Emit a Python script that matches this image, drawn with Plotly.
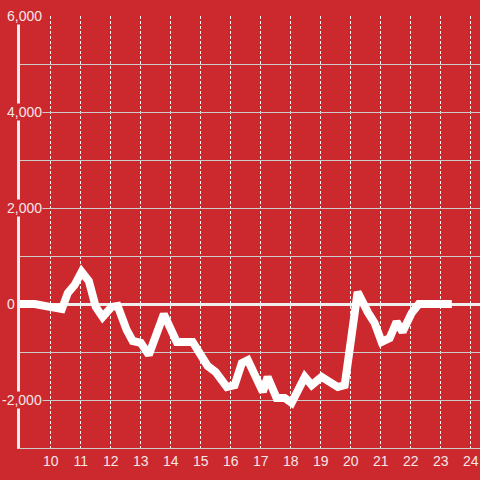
import plotly.graph_objects as go

# Data
hours = [8.975, 9.47, 9.97, 10.37, 10.57, 10.8, 11.03, 11.27, 11.5, 11.73,
         12.03, 12.23, 12.53, 12.73, 13.0, 13.27, 13.77, 14.2, 14.73, 15.23,
         15.5, 15.87, 16.13, 16.37, 16.57, 17.07, 17.23, 17.53, 17.8, 18.03,
         18.47, 18.7, 19.03, 19.57, 19.8, 20.03, 20.23, 20.57, 20.8, 21.03,
         21.3, 21.53, 21.73, 22.03, 22.27, 23.37]
values = [0, 0, -60, -105, 230, 400, 670, 480, -60, -270,
          -60, -40, -540, -770, -810, -1060, -210, -790, -790, -1290,
          -1420, -1730, -1690, -1230, -1170, -1830, -1520, -1960, -1960, -2060,
          -1520, -1690, -1520, -1730, -1690, -690, 250, -170, -400, -790,
          -710, -370, -580, -190, 0, 0]

x_ticks = list(range(10, 25))
y_grid = list(range(-3000, 6001, 1000))
y_labels = [6000, 4000, 2000, 0, -2000]

BG = "#cc292e"
TXT = "#f5e6e6"
FONT = "Liberation Sans, Arial, sans-serif"

fig = go.Figure()
fig.add_trace(go.Scatter(
    x=hours, y=values, mode="lines",
    line=dict(color="white", width=8),
    hoverinfo="skip", showlegend=False,
))

for v in y_labels:
    fig.add_annotation(
        x=(43 - 20) / 460 if v != 0 else (16 - 20) / 460,
        xref="paper", y=v, yref="y",
        text=f"{v:,}", showarrow=False, xanchor="right", yanchor="middle",
        font=dict(family=FONT, size=14, color=TXT),
        bgcolor=BG, borderpad=0,
    )

fig.update_layout(
    width=480, height=480,
    margin=dict(l=20, r=0, t=16, b=32),
    paper_bgcolor=BG, plot_bgcolor=BG,
    font=dict(family=FONT, size=14, color=TXT),
    showlegend=False,
)
fig.update_xaxes(
    range=[8.975, 24.31],
    tickvals=x_ticks, ticktext=[str(t) for t in x_ticks],
    showgrid=True, gridcolor="rgba(255,255,255,0.95)", gridwidth=1, griddash="3px,2px",
    showline=True, linecolor="#cccccc", linewidth=1,
    ticks="", zeroline=False,
    tickfont=dict(family=FONT, size=14, color=TXT),
)
fig.update_yaxes(
    range=[-3000, 6000],
    tickvals=y_grid, showticklabels=False,
    showgrid=True, gridcolor="#cccccc", gridwidth=1,
    zeroline=True, zerolinecolor="#eeeeee", zerolinewidth=3,
    showline=True, linecolor="#eeeeee", linewidth=3,
    ticks="",
)

fig.write_html(
    "out.html",
    config={"displayModeBar": False},
    post_script="document.body.style.margin='0';document.body.style.overflow='hidden';",
)
